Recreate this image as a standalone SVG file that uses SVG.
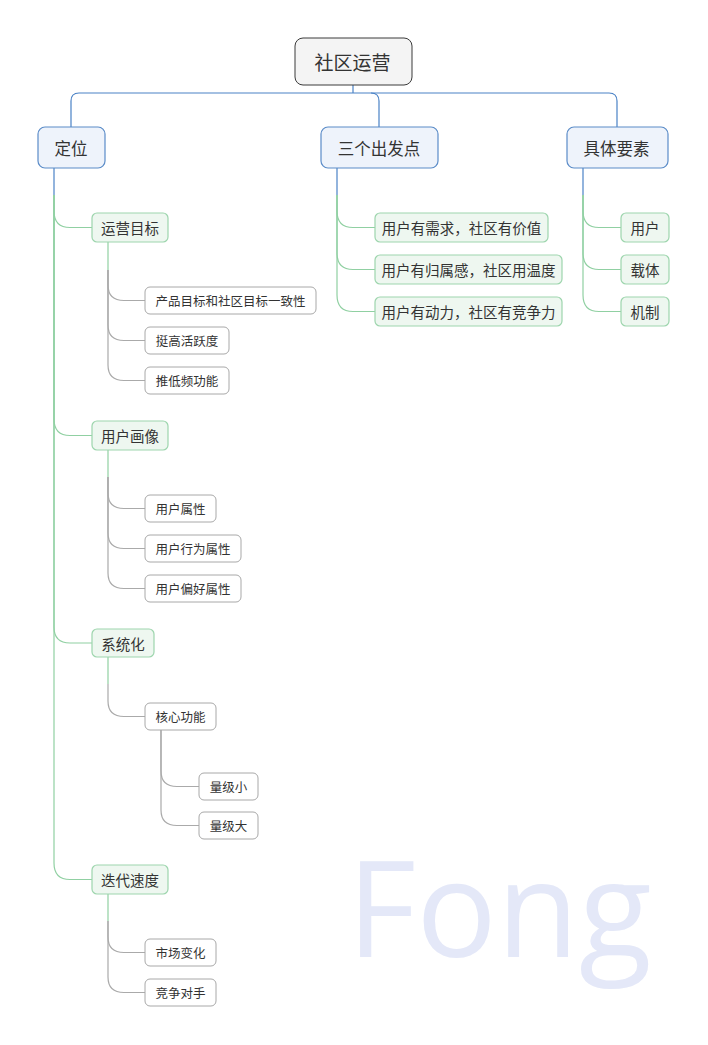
<svg xmlns="http://www.w3.org/2000/svg" width="708" height="1045" viewBox="0 0 708 1045">
<style>
text{font-family:"Noto Sans CJK SC","Noto Sans",sans-serif;fill:#333;text-anchor:middle;dominant-baseline:central}
.root rect{fill:#f4f4f4;stroke:#3a3a3a;stroke-width:1}
.root text{font-size:19px}
.l1 rect{fill:#eef3fb;stroke:#5b8cc8;stroke-width:1.2}
.l1 text{font-size:16.5px}
.l2 rect{fill:#eef7f0;stroke:#9dd5ad;stroke-width:1.2}
.l2 text{font-size:14.5px}
.l3 rect{fill:#ffffff;stroke:#a8a8a8;stroke-width:1}
.l3 text{font-size:12.5px}
.cb{fill:none;stroke:#4a82c6;stroke-width:1.2}
.cg{fill:none;stroke:#90d0a2;stroke-width:1.2}
.cy{fill:none;stroke:#aaaaaa;stroke-width:1.2}
.wm{font-family:"Open Sans","DejaVu Sans",sans-serif;font-size:134px;fill:#e4e8f8;text-anchor:start;dominant-baseline:auto}
</style>
<text class="wm" x="347" y="957">Fong</text>
<g id="connectors">
<path class="cb" d="M353,85 V93"/>
<path class="cb" d="M71,127 V101 Q71,93 79,93 H609 Q617,93 617,101 V127"/>
<path class="cb" d="M371,93 Q379,93 379,101 V127"/>
<path class="cb" d="M54,168 V195"/>
<path class="cb" d="M337,168 V195"/>
<path class="cb" d="M583,168 V195"/>
<path class="cg" d="M54,195 V211 Q54,227.5 70,227.5 H92"/>
<path class="cg" d="M54,195 V419 Q54,435.5 70,435.5 H92"/>
<path class="cg" d="M54,195 V627 Q54,643 70,643 H92"/>
<path class="cg" d="M54,195 V863 Q54,879.5 70,879.5 H92"/>
<path class="cg" d="M337,195 V211 Q337,227.5 353,227.5 H375"/>
<path class="cg" d="M337,195 V253 Q337,269.5 353,269.5 H375"/>
<path class="cg" d="M337,195 V295 Q337,311.5 353,311.5 H375"/>
<path class="cg" d="M583,195 V211 Q583,227.5 599,227.5 H621"/>
<path class="cg" d="M583,195 V253 Q583,269.5 599,269.5 H621"/>
<path class="cg" d="M583,195 V295 Q583,311.5 599,311.5 H621"/>
<path class="cg" d="M108,242 V270"/>
<path class="cy" d="M108,270 V285 Q108,300.5 124,300.5 H145"/>
<path class="cy" d="M108,270 V325 Q108,340.5 124,340.5 H145"/>
<path class="cy" d="M108,270 V365 Q108,380.5 124,380.5 H145"/>
<path class="cg" d="M108,450 V477"/>
<path class="cy" d="M108,477 V493 Q108,508.5 124,508.5 H145"/>
<path class="cy" d="M108,477 V533 Q108,548.5 124,548.5 H145"/>
<path class="cy" d="M108,477 V573 Q108,588.5 124,588.5 H145"/>
<path class="cg" d="M108,657 V684"/>
<path class="cy" d="M108,684 V701 Q108,716.5 124,716.5 H145"/>
<path class="cy" d="M161,730 V771 Q161,786.5 177,786.5 H199"/>
<path class="cy" d="M161,730 V810 Q161,825.5 177,825.5 H199"/>
<path class="cg" d="M108,894 V921"/>
<path class="cy" d="M108,921 V937 Q108,952.5 124,952.5 H145"/>
<path class="cy" d="M108,921 V977 Q108,992.5 124,992.5 H145"/>
</g>
<g id="root" class="root"><rect x="295" y="38" width="117" height="47" rx="8"/><text x="352.5" y="61.5">社区运营</text></g>
<g id="dingwei" class="l1"><rect x="38" y="127" width="67" height="41" rx="7"/><text x="71" y="147.5">定位</text></g>
<g id="sange" class="l1"><rect x="321" y="127" width="117" height="41" rx="7"/><text x="379" y="147.5">三个出发点</text></g>
<g id="juti" class="l1"><rect x="567" y="127" width="101" height="41" rx="7"/><text x="616.5" y="147.5">具体要素</text></g>
<g id="yymb" class="l2"><rect x="92" y="213" width="76" height="29" rx="5"/><text x="130" y="227.5">运营目标</text></g>
<g id="yhhx" class="l2"><rect x="92" y="421" width="76" height="29" rx="5"/><text x="130" y="435.5">用户画像</text></g>
<g id="xth" class="l2"><rect x="92" y="629" width="62" height="28" rx="5"/><text x="123" y="643">系统化</text></g>
<g id="ddsd" class="l2"><rect x="92" y="865" width="76" height="29" rx="5"/><text x="130" y="879.5">迭代速度</text></g>
<g id="s1" class="l2"><rect x="375" y="213" width="173" height="29" rx="5"/><text x="461.5" y="227.5">用户有需求，社区有价值</text></g>
<g id="s2" class="l2"><rect x="375" y="255" width="187" height="29" rx="5"/><text x="468.5" y="269.5">用户有归属感，社区用温度</text></g>
<g id="s3" class="l2"><rect x="375" y="297" width="187" height="29" rx="5"/><text x="468.5" y="311.5">用户有动力，社区有竞争力</text></g>
<g id="j1" class="l2"><rect x="621" y="213" width="48" height="29" rx="5"/><text x="645" y="227.5">用户</text></g>
<g id="j2" class="l2"><rect x="621" y="255" width="48" height="29" rx="5"/><text x="645" y="269.5">载体</text></g>
<g id="j3" class="l2"><rect x="621" y="297" width="48" height="29" rx="5"/><text x="645" y="311.5">机制</text></g>
<g id="y1" class="l3"><rect x="145" y="287" width="171" height="27" rx="5"/><text x="230.5" y="300.5">产品目标和社区目标一致性</text></g>
<g id="y2" class="l3"><rect x="145" y="327" width="84" height="27" rx="5"/><text x="187" y="340.5">挺高活跃度</text></g>
<g id="y3" class="l3"><rect x="145" y="367" width="84" height="27" rx="5"/><text x="187" y="380.5">推低频功能</text></g>
<g id="h1" class="l3"><rect x="145" y="495" width="71" height="27" rx="5"/><text x="180.5" y="508.5">用户属性</text></g>
<g id="h2" class="l3"><rect x="145" y="535" width="96" height="27" rx="5"/><text x="193" y="548.5">用户行为属性</text></g>
<g id="h3" class="l3"><rect x="145" y="575" width="96" height="27" rx="5"/><text x="193" y="588.5">用户偏好属性</text></g>
<g id="hxgn" class="l3"><rect x="145" y="703" width="71" height="27" rx="5"/><text x="180.5" y="716.5">核心功能</text></g>
<g id="ljx" class="l3"><rect x="199" y="773" width="59" height="27" rx="5"/><text x="228.5" y="786.5">量级小</text></g>
<g id="ljd" class="l3"><rect x="199" y="812" width="59" height="27" rx="5"/><text x="228.5" y="825.5">量级大</text></g>
<g id="d1" class="l3"><rect x="145" y="939" width="71" height="27" rx="5"/><text x="180.5" y="952.5">市场变化</text></g>
<g id="d2" class="l3"><rect x="145" y="979" width="71" height="27" rx="5"/><text x="180.5" y="992.5">竞争对手</text></g>
</svg>
